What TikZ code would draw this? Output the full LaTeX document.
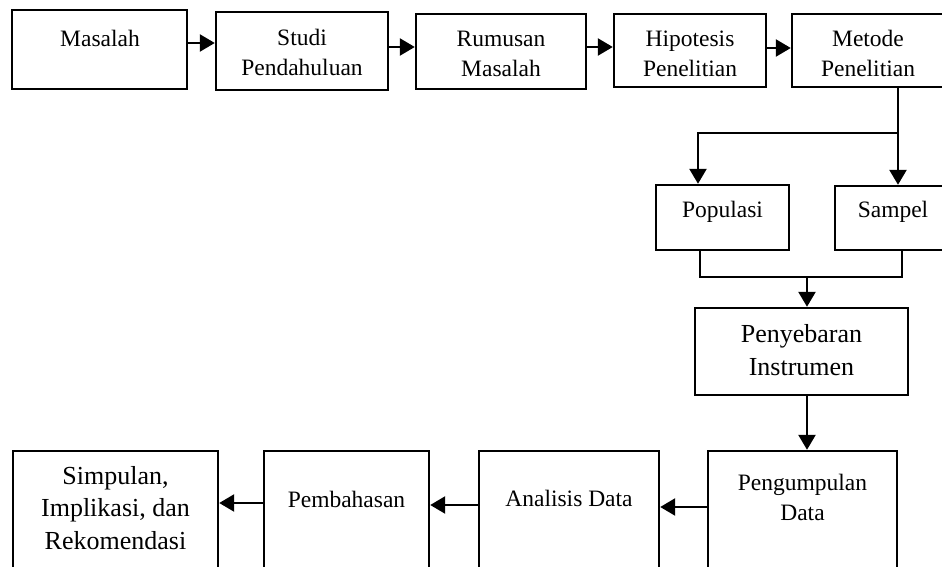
\documentclass[tikz,border=0pt]{standalone}
\usepackage{fontspec}
\setmainfont{Liberation Serif}
\usetikzlibrary{arrows.meta,fit}
\begin{document}
\begin{tikzpicture}[x=1pt,y=-1pt,
  box/.style={draw=black,line width=2.4pt,inner sep=0pt,fill=none},
  txt/.style={inner sep=0pt,align=center,anchor=base,font=\fontsize{23.5}{30}\selectfont},
  bigtxt/.style={inner sep=0pt,align=center,anchor=base,font=\fontsize{26}{32.5}\selectfont},
  conn/.style={draw=black,line width=2.4pt},
  arr/.style={conn,-{Triangle[length=15pt,width=17pt]}}]
\useasboundingbox (0,0) rectangle (942,567);
\fill[white] (0,0) rectangle (942,567);
\clip (0,0) rectangle (942,567);
% top row
\node[box,fit={(12,10) (187,89)}] (m1) {};
\node[box,fit={(216,12) (388,90)}] (m2) {};
\node[box,fit={(416,14) (586,89)}] (m3) {};
\node[box,fit={(614,14) (766,87)}] (m4) {};
\node[box,fit={(792,14) (944,87)}] (m5) {};
\node[txt] (m1t) at (100,47) {Masalah};
\node[txt] (m2t) at (302,76) {Studi\\Pendahuluan};
\node[txt] (m3t) at (501,77) {Rumusan\\Masalah};
\node[txt] (m4t) at (690,77) {Hipotesis\\Penelitian};
\node[txt] (m5t) at (868,77) {Metode\\Penelitian};
% middle
\node[box,fit={(656,185) (789,250)}] (p1) {};
\node[box,fit={(835,186) (951,250)}] (p2) {};
\node[txt] (p1t) at (722.5,217) {Populasi};
\node[txt] (p2t) at (893,217) {Sampel};
\node[box,fit={(695,308) (908,395)}] (pn) {};
\node[bigtxt] (pnt) at (801.5,375) {Penyebaran\\Instrumen};
% bottom row
\node[box,fit={(708,451) (897,580)}] (pg) {};
\node[box,fit={(479,451) (659,580)}] (ad) {};
\node[box,fit={(264,451) (429,580)}] (pb) {};
\node[box,fit={(13,451) (218,580)}] (sk) {};
\node[txt] (pgt) at (802.5,520) {Pengumpulan\\Data};
\node[txt] (adt) at (569,506) {Analisis Data};
\node[txt] (pbt) at (346.5,507) {Pembahasan};
\node[bigtxt] (skt) at (115.5,549) {Simpulan,\\Implikasi, dan\\Rekomendasi};
% connectors top row
\draw[arr] (m1.east |- 0,43) -- (m2.west |- 0,43);
\draw[arr] (m2.east |- 0,47) -- (m3.west |- 0,47);
\draw[arr] (m3.east |- 0,47) -- (m4.west |- 0,47);
\draw[arr] (m4.east |- 0,48) -- (m5.west |- 0,48);
% split
\coordinate (j1) at (898,133);
\draw[arr] (m5.south -| j1) -- (j1) -| (p1.north -| 698,0);
\draw[arr] (j1) -- (p2.north -| j1);
% merge
\coordinate (j2) at (807,277);
\draw[conn] (p1.south -| 700,0) |- (j2) -| (p2.south -| 902,0);
\draw[arr] (j2) -- (pn.north -| j2);
\draw[arr] (pn.south -| j2) -- (pg.north -| j2);
% bottom row
\draw[arr] (pg.west |- 0,507) -- (ad.east |- 0,507);
\draw[arr] (ad.west |- 0,505) -- (pb.east |- 0,505);
\draw[arr] (pb.west |- 0,503) -- (sk.east |- 0,503);
\end{tikzpicture}
\end{document}
